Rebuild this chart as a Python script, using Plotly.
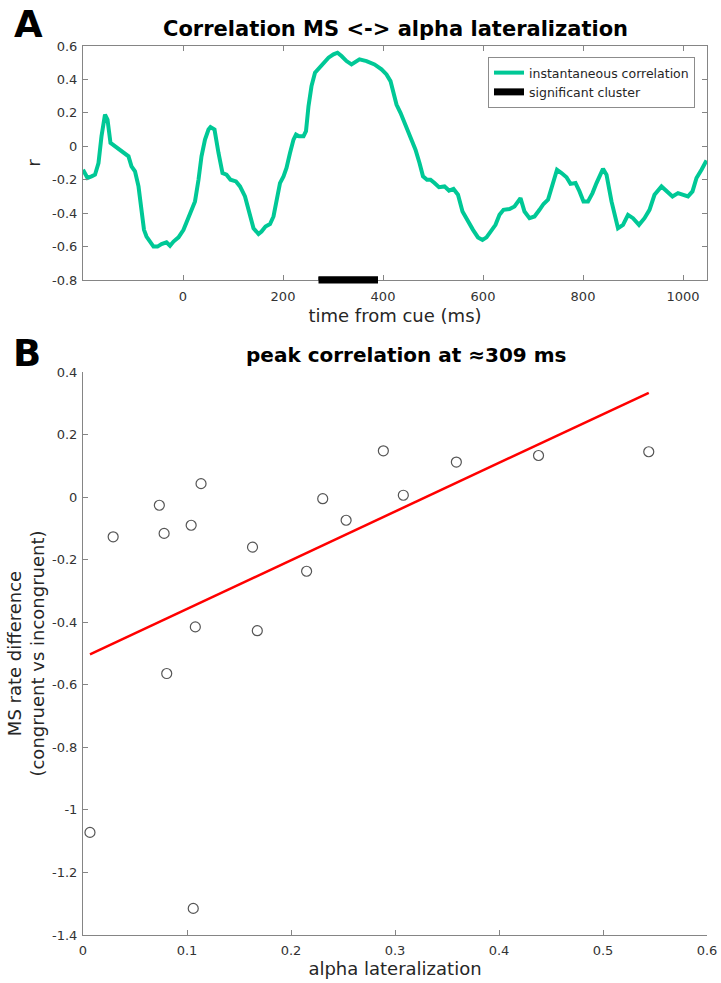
import numpy as np
import plotly.graph_objects as go

# ---------------- data: panel A ----------------
time_ms = [-200, -191, -183, -176, -169, -163, -156, -151, -145, -136,
           -126, -116, -109, -103, -96, -89, -83, -78, -73, -66,
           -59, -51, -43, -33, -26, -19, -9, 1, 11, 19,
           24, 31, 37, 44, 51, 55, 63, 71, 79, 87,
           95, 106, 114, 124, 133, 141, 151, 157, 165, 174,
           181, 187, 194, 201, 207, 214, 221, 226, 232, 241,
           246, 251, 257, 264, 273, 281, 291, 301, 309, 317,
           327, 337,
           353, 367, 383, 397, 407, 415, 420, 427, 435, 443,
           453, 465, 473, 480, 488, 495, 503, 512, 523, 532,
           541, 550, 559, 570, 580, 590, 599, 607, 617, 625,
           633, 641, 653, 663, 675, 683, 693, 703, 713, 721,
           730, 739, 748, 757, 767, 775, 785, 793, 801, 810,
           819, 827, 840, 847, 857, 870, 880, 890, 900, 912,
           923, 933, 943, 957, 967, 979, 990, 1000, 1010, 1019,
           1027, 1037, 1047]
r_values = [-0.14, -0.19, -0.18, -0.17, -0.10, 0.06, 0.19, 0.16, 0.02, 0.0,
            -0.02, -0.04, -0.06, -0.12, -0.15, -0.24, -0.36, -0.50, -0.54, -0.57,
            -0.60, -0.60, -0.585, -0.575, -0.595, -0.57, -0.545, -0.50, -0.43, -0.36,
            -0.33, -0.20, -0.06, 0.04, 0.10, 0.115, 0.10, -0.04, -0.16, -0.17,
            -0.20, -0.21, -0.24, -0.30, -0.40, -0.49, -0.525, -0.51, -0.48, -0.465,
            -0.42, -0.32, -0.22, -0.18, -0.13, -0.04, 0.04, 0.07, 0.06, 0.06,
            0.09, 0.24, 0.36, 0.44, 0.47, 0.50, 0.53, 0.55, 0.56, 0.54,
            0.51, 0.49,
            0.52, 0.51, 0.49, 0.46, 0.43, 0.39, 0.32, 0.25, 0.20, 0.14,
            0.06, -0.02, -0.10, -0.18, -0.20, -0.20, -0.22, -0.245, -0.24, -0.265,
            -0.255, -0.29, -0.39, -0.45, -0.50, -0.545, -0.56, -0.545, -0.50, -0.47,
            -0.41, -0.38, -0.375, -0.36, -0.31, -0.39, -0.43, -0.42, -0.38, -0.345,
            -0.32, -0.23, -0.14, -0.16, -0.185, -0.225, -0.22, -0.27, -0.33, -0.33,
            -0.28, -0.22, -0.135, -0.17, -0.33, -0.49, -0.47, -0.41, -0.43, -0.47,
            -0.43, -0.38, -0.29, -0.24, -0.27, -0.30, -0.28, -0.29, -0.30, -0.27,
            -0.19, -0.14, -0.085]
cluster_ms = [271, 390]
cluster_level = -0.8

a_xrange = [-200, 1048]
a_yrange = [-0.8, 0.6]
a_xticks = [0, 200, 400, 600, 800, 1000]
a_yticks = [-0.8, -0.6, -0.4, -0.2, 0, 0.2, 0.4, 0.6]
a_yticklabels = ["-0.8", "-0.6", "-0.4", "-0.2", "0", "0.2", "0.4", "0.6"]

# ---------------- data: panel B ----------------
alpha_lat = [0.0067, 0.029, 0.0734, 0.078, 0.0805, 0.104, 0.106, 0.108, 0.1135, 0.163,
             0.1676, 0.215, 0.2305, 0.253, 0.2888, 0.308, 0.359, 0.438, 0.544]
ms_diff = [-1.072, -0.127, -0.026, -0.116, -0.564, -0.090, -1.315, -0.415, 0.043, -0.160,
           -0.427, -0.237, -0.005, -0.074, 0.148, 0.006, 0.112, 0.133, 0.145]

b_xticks = [0, 0.1, 0.2, 0.3, 0.4, 0.5, 0.6]
b_xticklabels = ["0", "0.1", "0.2", "0.3", "0.4", "0.5", "0.6"]
b_yticks = [-1.4, -1.2, -1.0, -0.8, -0.6, -0.4, -0.2, 0, 0.2, 0.4]
b_yticklabels = ["-1.4", "-1.2", "-1", "-0.8", "-0.6", "-0.4", "-0.2", "0", "0.2", "0.4"]

# regression fit
slope, intercept = np.polyfit(alpha_lat, ms_diff, 1)
fit_x = [min(alpha_lat), max(alpha_lat)]
fit_y = [slope * v + intercept for v in fit_x]

W, H = 721, 983
FONT = "DejaVu Sans"
TICKC = "#333333"
AXC = "#858585"
GREEN = "#00c896"

fig = go.Figure()
fig.add_trace(go.Scatter(x=time_ms, y=r_values, mode="lines",
                         line=dict(color=GREEN, width=4),
                         name="instantaneous correlation", xaxis="x", yaxis="y"))
fig.add_trace(go.Scatter(x=cluster_ms, y=[cluster_level] * 2, mode="lines",
                         line=dict(color="black", width=7),
                         name="significant cluster", xaxis="x", yaxis="y"))
fig.add_trace(go.Scatter(x=alpha_lat, y=ms_diff, mode="markers",
                         marker=dict(symbol="circle-open", size=10,
                                     color="#555555", line=dict(width=1.2)),
                         showlegend=False, xaxis="x2", yaxis="y2"))
fig.add_trace(go.Scatter(x=fit_x, y=fit_y, mode="lines",
                         line=dict(color="#ff0000", width=2.5),
                         showlegend=False, xaxis="x2", yaxis="y2"))

# cluster bar straddling the bottom axis line (shape is clipped only horizontally)
fig.add_shape(type="line", xref="x", yref="y domain",
              x0=cluster_ms[0], x1=cluster_ms[1], y0=0, y1=0,
              line=dict(color="black", width=7), layer="above")

xdom = [83 / W, 707 / W]
common = dict(showgrid=False, zeroline=False, showline=True, linecolor=AXC,
              linewidth=1.1, ticks="inside", ticklen=5, tickcolor=AXC, tickwidth=1.1,
              tickfont=dict(family=FONT, size=13, color=TICKC))
TITLEF = dict(family=FONT, size=18, color="#262626")

fig.update_layout(
    width=W, height=H,
    margin=dict(l=0, r=0, t=0, b=0, autoexpand=False),
    paper_bgcolor="white", plot_bgcolor="white",
    font=dict(family=FONT, color="#262626"),
    xaxis=dict(domain=xdom, range=a_xrange, tickvals=a_xticks,
               mirror="ticks", anchor="y", ticklabelstandoff=4,
               title=dict(text="time from cue (ms)", font=TITLEF, standoff=6),
               **common),
    yaxis=dict(domain=[1 - 280 / H, 1 - 46 / H], range=a_yrange,
               tickvals=a_yticks, ticktext=a_yticklabels, mirror="ticks", anchor="x",
               ticklabelstandoff=2,
               title=dict(text="r", font=TITLEF, standoff=6),
               **common),
    xaxis2=dict(domain=xdom, range=[0, 0.6], tickvals=b_xticks, ticktext=b_xticklabels,
                anchor="y2", ticklabelstandoff=3,
                title=dict(text="alpha lateralization", font=TITLEF, standoff=5),
                **common),
    yaxis2=dict(domain=[1 - 935 / H, 1 - 372 / H], range=[-1.4, 0.4],
                tickvals=b_yticks, ticktext=b_yticklabels, anchor="x2",
                ticklabelstandoff=2,
                title=dict(text="MS rate difference<br>(congruent vs incongruent)",
                           font=TITLEF, standoff=2),
                **common),
    legend=dict(x=695 / W, xanchor="right", y=1 - 57 / H, yanchor="top",
                bgcolor="white", bordercolor="#8c8c8c", borderwidth=1,
                font=dict(family=FONT, size=12.5, color="#262626"),
                tracegroupgap=0, itemwidth=30),
    showlegend=True,
    annotations=[
        dict(text="<b>A</b>", x=12 / W, y=1 - 1 / H, xref="paper", yref="paper",
             xanchor="left", yanchor="top", showarrow=False,
             font=dict(family=FONT, size=37, color="black")),
        dict(text="<b>B</b>", x=11 / W, y=1 - 330 / H, xref="paper", yref="paper",
             xanchor="left", yanchor="top", showarrow=False,
             font=dict(family=FONT, size=37, color="black")),
        dict(text="<b>Correlation MS <-> alpha lateralization</b>", x=395 / W, y=1 - 29 / H,
             xref="paper", yref="paper", xanchor="center", yanchor="middle", showarrow=False,
             font=dict(family=FONT, size=21, color="black")),
        dict(text="<b>peak correlation at ≈309 ms</b>", x=406 / W, y=1 - 355 / H,
             xref="paper", yref="paper", xanchor="center", yanchor="middle", showarrow=False,
             font=dict(family=FONT, size=20, color="black")),
    ],
)

fig.write_html("out.html", config={"displayModeBar": False},
               post_script="document.body.style.margin='0';")
